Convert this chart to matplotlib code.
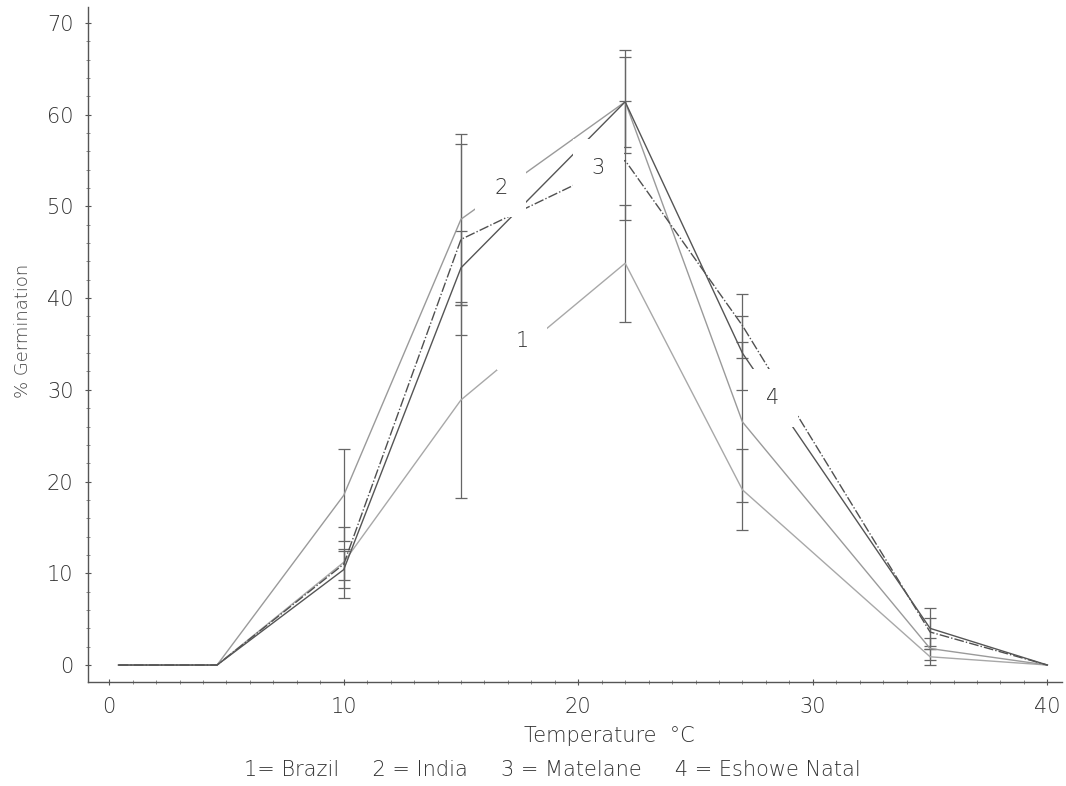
import matplotlib
matplotlib.use("Agg")
import matplotlib.pyplot as plt
from matplotlib.ticker import MultipleLocator

# ---- data ----
temps = [0.4, 4.6, 10, 15, 22, 27, 35, 40]
brazil = [0, 0, 11.2, 28.9, 43.8, 19.1, 0.9, 0]
india = [0, 0, 18.5, 48.6, 61.4, 26.5, 1.8, 0]
matelane = [0, 0, 11.0, 46.4, 55.0, 37.0, 3.6, 0]
eshowe = [0, 0, 10.4, 43.3, 61.4, 34.0, 4.0, 0]

brazil_err = [0, 0, 3.9, 10.7, 6.4, 4.4, 0.9, 0]
india_err = [0, 0, 5.0, 9.3, 5.6, 8.7, 1.2, 0]
matelane_err = [0, 0, 1.7, 10.4, 6.5, 3.5, 1.5, 0]
eshowe_err = [0, 0, 2.0, 4.0, 4.9, 4.0, 2.2, 0]

series_labels = ["1", "2", "3", "4"]
label_pos = [(17.6, 35.3), (16.7, 52.0), (20.85, 54.2), (28.3, 29.1)]
legend_text = "1= Brazil     2 = India     3 = Matelane     4 = Eshowe Natal"
xticks = [0, 10, 20, 30, 40]
yticks = [0, 10, 20, 30, 40, 50, 60, 70]

plt.rcParams['font.family'] = ['DejaVu Sans']
fig = plt.figure(figsize=(10.66, 7.86), dpi=100)
ax = fig.add_axes([0.0826, 0.1323, 0.914, 0.859])

styles = [
    dict(color="#a8a8a8", lw=1.0, ls="-"),
    dict(color="#9a9a9a", lw=1.0, ls="-"),
    dict(color="#505050", lw=1.0, ls=(0, (7, 1.5, 1, 1.5))),
    dict(color="#555555", lw=1.0, ls="-"),
]
for ys, es, st in zip([brazil, india, matelane, eshowe],
                      [brazil_err, india_err, matelane_err, eshowe_err], styles):
    ax.plot(temps, ys, zorder=2, **st)
    xs_e = temps[2:7]
    ax.errorbar(xs_e, ys[2:7], yerr=es[2:7], fmt="none", ecolor="#666666",
                elinewidth=0.9, capsize=4, capthick=0.9, zorder=1)

for lab, (lx, ly) in zip(series_labels, label_pos):
    ax.text(lx, ly, lab, fontsize=15, color="#333333", ha="center", va="center",
            zorder=5, fontweight="light",
            bbox=dict(boxstyle="square,pad=0.9", fc="white", ec="none"))

ax.set_xlim(-0.9, 40.64)
ax.set_ylim(-1.85, 71.75)
ax.set_xticks(xticks)
ax.set_yticks(yticks)
ax.xaxis.set_minor_locator(MultipleLocator(1))
ax.yaxis.set_minor_locator(MultipleLocator(2))
ax.tick_params(axis="both", which="major", direction="inout", length=5, width=0.8,
               colors="#555555", labelsize=15, labelcolor="#333333", pad=8)
ax.tick_params(axis="both", which="minor", direction="inout", length=3, width=0.6,
               colors="#777777")
for lbl in ax.get_xticklabels() + ax.get_yticklabels():
    lbl.set_fontweight("light")
for s in ["top", "right"]:
    ax.spines[s].set_visible(False)
for s in ["left", "bottom"]:
    ax.spines[s].set_color("#555555")
    ax.spines[s].set_linewidth(1.0)

ax.set_xlabel("Temperature  °C", fontsize=15, color="#333333", fontweight="light")
ax.xaxis.set_label_coords(0.535, -0.065)
ax.set_ylabel("% Germination", fontsize=13, color="#444444", fontweight="light")
ax.yaxis.set_label_coords(-0.058, 0.52)
fig.text(0.518, 0.008, legend_text, fontsize=15, color="#333333", ha="center",
         va="bottom", fontweight="light")

fig.savefig("out.png", dpi=100, facecolor="white")
